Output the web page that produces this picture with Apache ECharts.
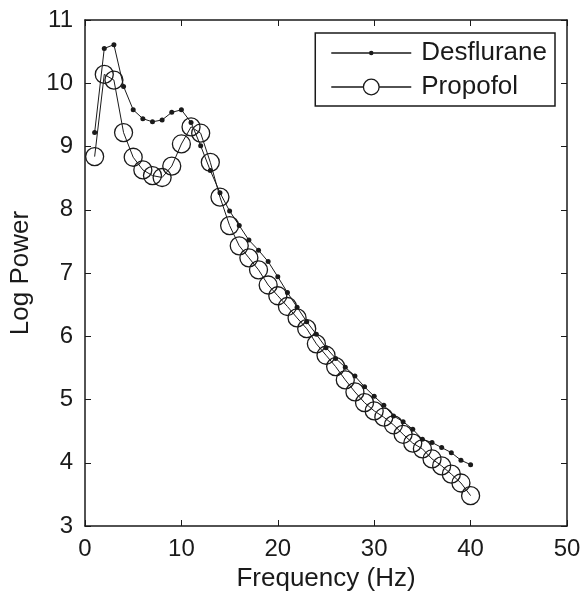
<!DOCTYPE html>
<html>
<head>
<meta charset="utf-8">
<script src="https://cdn.jsdelivr.net/npm/echarts@6/dist/echarts.min.js"></script>
<style>
html,body{margin:0;padding:0;background:#fff;}
#c{width:584px;height:597px;}
</style>
</head>
<body>
<div id="c"></div>
<script>
var frequencies = [1,2,3,4,5,6,7,8,9,10,11,12,13,14,15,16,17,18,19,20,21,22,23,24,25,26,27,28,29,30,31,32,33,34,35,36,37,38,39,40];
var desflurane = [9.22,10.55,10.61,9.95,9.58,9.44,9.39,9.42,9.54,9.58,9.38,9.01,8.62,8.27,7.98,7.75,7.52,7.36,7.18,6.94,6.69,6.46,6.23,6.03,5.82,5.65,5.51,5.37,5.20,5.05,4.91,4.74,4.65,4.53,4.37,4.32,4.24,4.16,4.04,3.97];
var propofol = [8.84,10.14,10.05,9.22,8.83,8.63,8.54,8.51,8.69,9.04,9.31,9.21,8.75,8.20,7.75,7.43,7.24,7.05,6.81,6.64,6.47,6.29,6.12,5.88,5.70,5.52,5.31,5.12,4.95,4.82,4.72,4.60,4.45,4.31,4.22,4.06,3.95,3.82,3.68,3.48];
var seriesNames = ['Desflurane','Propofol'];
var xTicks = [0,10,20,30,40,50];
var yTicks = [3,4,5,6,7,8,9,10,11];

function pairs(xs, ys){ return xs.map(function(x,i){ return [x, ys[i]]; }); }

var chart = echarts.init(document.getElementById('c'), null, {renderer:'canvas'});
var font = 'Liberation Sans, Arial, Helvetica, sans-serif';
var ink = '#1a1a1a';
var baseX = {
  type:'value', min:xTicks[0], max:xTicks[xTicks.length-1], interval:10,
  axisLine:{show:true, onZero:false, lineStyle:{color:ink, width:1.5}},
  axisTick:{show:true, inside:true, length:6, lineStyle:{color:ink, width:1}},
  splitLine:{show:false}
};
var baseY = {
  type:'value', min:yTicks[0], max:yTicks[yTicks.length-1], interval:1,
  axisLine:{show:true, onZero:false, lineStyle:{color:ink, width:1.5}},
  axisTick:{show:true, inside:true, length:6, lineStyle:{color:ink, width:1}},
  splitLine:{show:false}
};
var iconDes = 'path://M0,9.3 L80,9.3 L80,10.7 L0,10.7 Z M42.3,10 A2.3,2.3 0 1 1 37.7,10 A2.3,2.3 0 1 1 42.3,10 Z';
var iconPro = 'path://M0,9.3 L31.6,9.3 L31.6,10.7 L0,10.7 Z M48.4,9.3 L80,9.3 L80,10.7 L48.4,10.7 Z M48.5,10 A8.5,8.5 0 1 1 31.5,10 A8.5,8.5 0 1 1 48.5,10 Z M47.2,10 A7.2,7.2 0 1 0 32.8,10 A7.2,7.2 0 1 0 47.2,10 Z';
chart.setOption({
  animation:false,
  backgroundColor:'#fff',
  grid:{left:85, right:17, top:20, bottom:71},
  legend:{
    right:29, top:33, orient:'vertical',
    itemWidth:80, itemHeight:20, itemGap:8,
    padding:[7,8,6,16],
    symbolKeepAspect:true,
    borderColor:ink, borderWidth:1.5, backgroundColor:'#fff',
    textStyle:{fontFamily:font, fontSize:26, color:ink, padding:[0,0,0,5]},
    data:[
      {name:seriesNames[0], icon:iconDes, itemStyle:{color:ink, borderWidth:0}},
      {name:seriesNames[1], icon:iconPro, itemStyle:{color:ink, borderWidth:0}}
    ]
  },
  xAxis:[
    Object.assign({}, baseX, {
      position:'bottom',
      name:'Frequency (Hz)', nameLocation:'middle', nameGap:39,
      nameTextStyle:{fontFamily:font, fontSize:26, color:ink},
      axisLabel:{fontFamily:font, fontSize:24, color:ink, margin:11}
    }),
    Object.assign({}, baseX, {position:'top', axisLabel:{show:false}})
  ],
  yAxis:[
    Object.assign({}, baseY, {
      position:'left',
      name:'Log Power', nameLocation:'middle', nameGap:51,
      nameTextStyle:{fontFamily:font, fontSize:26, color:ink},
      axisLabel:{fontFamily:font, fontSize:24, color:ink, margin:12}
    }),
    Object.assign({}, baseY, {position:'right', axisLabel:{show:false}})
  ],
  series:[
    {
      name:seriesNames[0], type:'line', xAxisIndex:0, yAxisIndex:0,
      data:pairs(frequencies, desflurane),
      symbol:'circle', symbolSize:5,
      lineStyle:{color:ink, width:1},
      itemStyle:{color:ink}
    },
    {
      name:seriesNames[1], type:'line', xAxisIndex:0, yAxisIndex:0,
      data:pairs(frequencies, propofol),
      symbol:'circle', symbolSize:18,
      lineStyle:{color:ink, width:1},
      itemStyle:{color:'rgba(255,255,255,0)', borderColor:ink, borderWidth:1.3}
    }
  ]
});
</script>
</body>
</html>
